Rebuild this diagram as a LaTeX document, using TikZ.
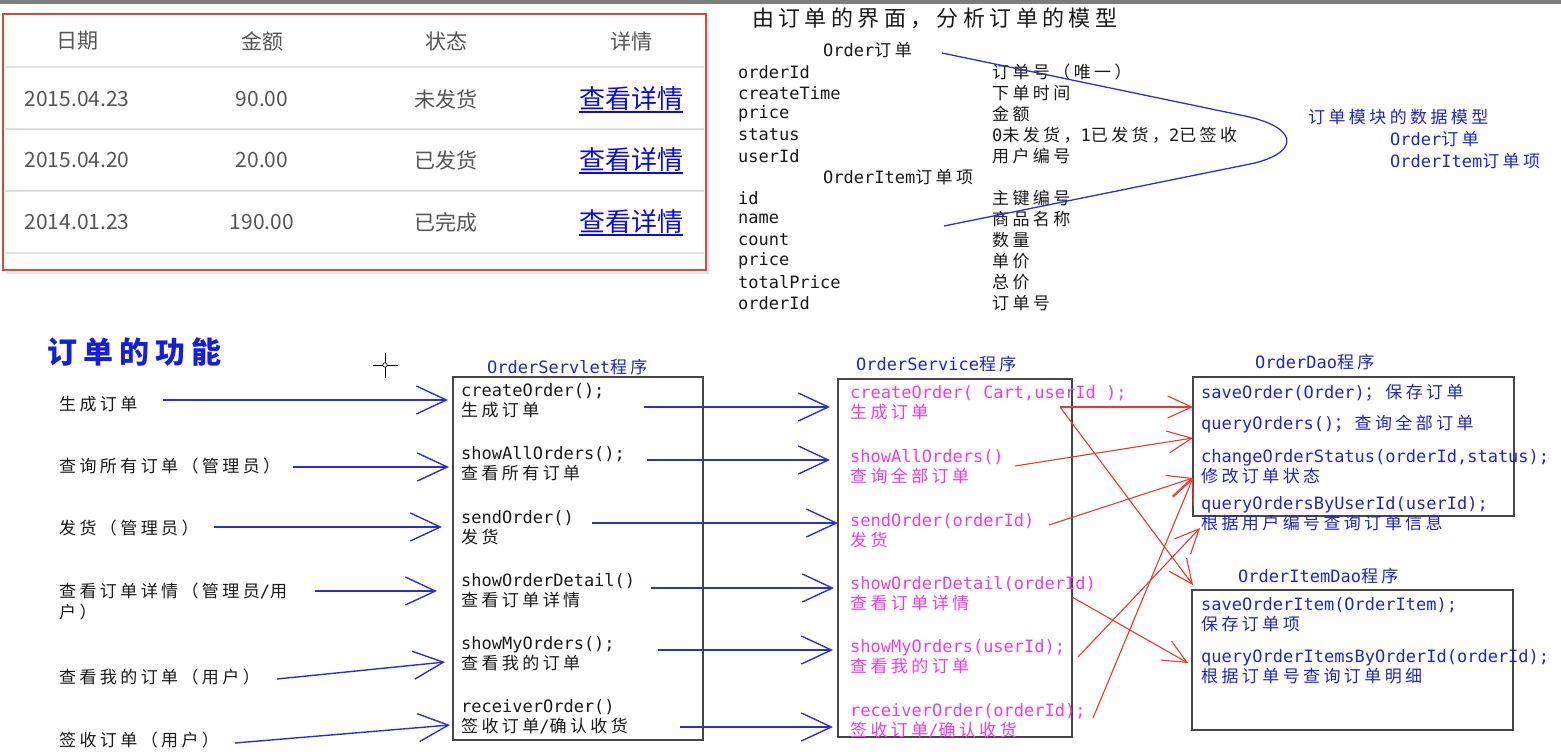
\documentclass[tikz,border=0pt]{standalone}
\usepackage{fontspec}
\usetikzlibrary{arrows.meta}

% Faces: Han text in a letterspaced CJK face (two Latin cells per glyph),
% Latin code text in a monospaced sans.
\newfontfamily\cn[LetterSpace=20]{Noto Sans CJK SC}
\newfontfamily\cnplain{Noto Sans CJK SC}
\newfontfamily\mono{DejaVu Sans Mono}
\let\hanfont\cn
\let\latinfont\mono

% Switch faces automatically between Han characters / full-width forms and Latin
\XeTeXinterchartokenstate=1
\newXeTeXintercharclass\hanclass
\newcount\hanc
\def\sethan#1#2{\hanc=#1 \loop\XeTeXcharclass\hanc=\hanclass
  \ifnum\hanc<#2 \advance\hanc by 1 \repeat}
\sethan{"4E00}{"9FFF}
\sethan{"3000}{"303F}
\sethan{"FF00}{"FFEF}
\XeTeXinterchartoks 0 \hanclass={\hanfont}
\XeTeXinterchartoks 4095 \hanclass={\hanfont}
\XeTeXinterchartoks \hanclass 0={\latinfont}
\XeTeXinterchartoks \hanclass 4095={\latinfont}

\def\tabsetup{\let\hanfont\cnplain\let\latinfont\cnplain\cnplain}

\definecolor{topbar}{RGB}{125,125,125}
\definecolor{tabred}{RGB}{215,75,65}
\definecolor{tgray}{RGB}{85,85,85}
\definecolor{linkblue}{RGB}{10,10,230}
\definecolor{ablue}{RGB}{45,45,215}
\definecolor{tblue}{RGB}{35,35,200}
\definecolor{hblue}{RGB}{20,30,220}
\definecolor{mag}{RGB}{235,60,235}
\definecolor{ared}{RGB}{235,55,45}
\definecolor{boxgray}{RGB}{70,70,70}
\definecolor{ink}{RGB}{25,25,25}

\tikzset{
  txt/.style={anchor=west, inner sep=0pt, text=ink, align=left,
    font=\fontsize{17}{20}\selectfont\mono},
  mtxt/.style={txt, font=\fontsize{17}{21}\selectfont\mono},
  btxt/.style={txt, text=tblue},
  ptxt/.style={txt, text=mag},
  tab/.style={anchor=center, inner sep=0pt, text=tgray,
    font=\fontsize{21}{24}\selectfont\tabsetup},
  link/.style={anchor=center, inner sep=0pt, text=linkblue,
    font=\fontsize{26}{30}\selectfont\tabsetup},
  box/.style={draw=boxgray, line width=1.5pt, inner sep=0pt},
  barrow/.style={draw=ablue, line width=1.4pt,
    -{Straight Barb[length=30pt,width=28pt]}},
  rarrow/.style={draw=ared, line width=1.1pt,
    -{Straight Barb[length=24pt,width=22pt]}},
}

\begin{document}
\begin{tikzpicture}[x=1pt,y=-1pt]
\useasboundingbox (0,0) rectangle (1561,755);
\fill[white] (0,0) rectangle (1561,755);
\fill[topbar] (0,0) rectangle (1561,4);

% ---------------- order list table ----------------
\fill[black!10] (6,18) rectangle (709,274);
\filldraw[fill=white, draw=tabred, line width=2pt] (3,14) rectangle (706,270);
\foreach \y in {67,129,191,253}
  \draw[black!12, line width=1.5pt] (5,\y) -- (704,\y);

\node[tab] (h1) at (77,41) {日期};
\node[tab] (h2) at (262,41) {金额};
\node[tab] (h3) at (446,41) {状态};
\node[tab] (h4) at (631,41) {详情};

\node[tab] (d1) at (77,99) {2015.04.23};
\node[tab] (a1) at (262,99) {90.00};
\node[tab] (s1) at (446,99) {未发货};
\node[link] (l1) at (631,99) {查看详情};

\node[tab] (d2) at (77,160) {2015.04.20};
\node[tab] (a2) at (262,160) {20.00};
\node[tab] (s2) at (446,160) {已发货};
\node[link] (l2) at (631,160) {查看详情};

\node[tab] (d3) at (77,222) {2014.01.23};
\node[tab] (a3) at (262,222) {190.00};
\node[tab] (s3) at (446,222) {已完成};
\node[link] (l3) at (631,222) {查看详情};

\foreach \n in {l1,l2,l3}
  \draw[linkblue, line width=1.6pt] ([yshift=-1pt]\n.south west) -- ([yshift=-1pt]\n.south east);

% ---------------- data model ----------------
\node[txt, font=\fontsize{22}{24}\selectfont\mono] (mtitle) at (752,18) {由订单的界面，分析订单的模型};

\node[txt] (ordert) at (823,50) {Order订单};
\node[txt] (f1) at (738,72) {orderId};
\node[txt] (f2) at (738,93) {createTime};
\node[txt] (f3) at (738,114) {price};
\node[txt] (f4) at (738,135) {status};
\node[txt] (f5) at (738,156) {userId};
\node[txt] (itemt) at (823,177) {OrderItem订单项};
\node[txt] (g1) at (738,198) {id};
\node[txt] (g2) at (738,219) {name};
\node[txt] (g3) at (738,240) {count};
\node[txt] (g4) at (738,261) {price};
\node[txt] (g5) at (738,282) {totalPrice};
\node[txt] (g6) at (738,303) {orderId};

\node[txt] (fd1) at (992,72) {订单号（唯一）};
\node[txt] (fd2) at (992,93) {下单时间};
\node[txt] (fd3) at (992,114) {金额};
\node[txt] (fd4) at (992,135) {0未发货，1已发货，2已签收};
\node[txt] (fd5) at (992,156) {用户编号};
\node[txt] (gd1) at (992,198) {主键编号};
\node[txt] (gd2) at (992,219) {商品名称};
\node[txt] (gd3) at (992,240) {数量};
\node[txt] (gd4) at (992,261) {单价};
\node[txt] (gd5) at (992,282) {总价};
\node[txt] (gd6) at (992,303) {订单号};

\coordinate (cs) at (942,53);
\coordinate (ce) at (944,226);
\draw[ablue, line width=1.3pt] (cs) -- (1245,116)
  .. controls (1297,127) and (1301,151) .. (1255,163) -- (ce);

\node[btxt] (mod) at (1308,117) {订单模块的数据模型};
\node[btxt] (mod1) at (1390,139) {Order订单};
\node[btxt] (mod2) at (1390,161) {OrderItem订单项};

% ---------------- order functions ----------------
\node[txt, text=hblue, font=\fontsize{30}{34}\selectfont\bfseries\mono] (ftitle) at (47,352) {订单的功能};

% pointer cursor
\draw[black, line width=0.8pt] (373,365) -- (398,365) (385,353) -- (385,378);
\draw[black, fill=white, line width=0.6pt] (385,365) circle (2.2pt);

\node[txt] (fn1) at (59,404) {生成订单};
\node[txt] (fn2) at (59,466) {查询所有订单（管理员）};
\node[txt] (fn3) at (59,528) {发货（管理员）};
\node[mtxt] (fn4) at (59,601.5) {查看订单详情（管理员/用\\户）};
\node[txt] (fn5) at (59,677) {查看我的订单（用户）};
\node[txt] (fn6) at (59,740) {签收订单（用户）};

% ---------------- OrderServlet ----------------
\node[box, minimum width=250pt, minimum height=363pt] (servlet) at (578,558.5) {};
\node[btxt] (servlett) at (487,367) {OrderServlet程序};
\node[txt] (sv1) at (461,401) {createOrder();\\生成订单};
\node[txt] (sv2) at (461,464) {showAllOrders();\\查看所有订单};
\node[txt] (sv3) at (461,528) {sendOrder()\\发货};
\node[txt] (sv4) at (461,591) {showOrderDetail()\\查看订单详情};
\node[txt] (sv5) at (461,654) {showMyOrders();\\查看我的订单};
\node[txt] (sv6) at (461,717) {receiverOrder()\\签收订单/确认收货};

% ---------------- OrderService ----------------
\node[box, minimum width=234pt, minimum height=358pt] (service) at (955,558) {};
\node[btxt] (servicet) at (856,364) {OrderService程序};
\node[ptxt] (se1) at (850,402.5) {createOrder( Cart,userId );\\生成订单};
\node[ptxt] (se2) at (850,467) {showAllOrders()\\查询全部订单};
\node[ptxt] (se3) at (850,531) {sendOrder(orderId)\\发货};
\node[ptxt] (se4) at (850,593.5) {showOrderDetail(orderId)\\查看订单详情};
\node[ptxt] (se5) at (850,657) {showMyOrders(userId);\\查看我的订单};
\node[ptxt] (se6) at (850,720.5) {receiverOrder(orderId);\\签收订单/确认收货};

% ---------------- OrderDao ----------------
\node[box, minimum width=321pt, minimum height=139pt] (dao) at (1353.5,446.5) {};
\node[btxt] (daot) at (1255,362) {OrderDao程序};
\node[btxt] (do1) at (1201,393) {saveOrder(Order)；保存订单};
\node[btxt] (do2) at (1201,424) {queryOrders()；查询全部订单};
\node[btxt] (do3) at (1201,467) {changeOrderStatus(orderId,status);\\修改订单状态};
\node[btxt] (do4) at (1201,513.5) {queryOrdersByUserId(userId);\\根据用户编号查询订单信息};

% ---------------- OrderItemDao ----------------
\node[box, minimum width=321pt, minimum height=140pt] (itemdao) at (1352.5,660) {};
\node[btxt] (itemdaot) at (1238,576) {OrderItemDao程序};
\node[btxt] (di1) at (1201,615) {saveOrderItem(OrderItem);\\保存订单项};
\node[btxt] (di2) at (1201,667) {queryOrderItemsByOrderId(orderId);\\根据订单号查询订单明细};

% ---------------- functions -> servlet ----------------
\coordinate (p1s) at (163,400);  \coordinate (p1e) at (448,400);
\coordinate (p2s) at (293,467);  \coordinate (p2e) at (449,467);
\coordinate (p3s) at (214,527);  \coordinate (p3e) at (442,527);
\coordinate (p4s) at (315,591);  \coordinate (p4e) at (437,591);
\coordinate (p5s) at (277,679);  \coordinate (p5e) at (445,662);
\coordinate (p6s) at (235,743);  \coordinate (p6e) at (450,725);
\foreach \i in {1,...,6} \draw[barrow] (p\i s) -- (p\i e);

% ---------------- servlet -> service ----------------
\coordinate (q1s) at (644,407);  \coordinate (q1e) at (830,407);
\coordinate (q2s) at (647,460);  \coordinate (q2e) at (830,460);
\coordinate (q3s) at (592,523);  \coordinate (q3e) at (838,523);
\coordinate (q4s) at (651,588);  \coordinate (q4e) at (834,588);
\coordinate (q5s) at (658,650);  \coordinate (q5e) at (833,650);
\coordinate (q6s) at (680,727);  \coordinate (q6e) at (833,727);
\foreach \i in {1,...,6} \draw[barrow] (q\i s) -- (q\i e);

% ---------------- service -> dao ----------------
\coordinate (r1s) at (1060,407);
\coordinate (r2s) at (1015,466);
\coordinate (r3s) at (1049,525);
\coordinate (r4s) at (1072,597);
\coordinate (r5s) at (1078,657);
\coordinate (r6s) at (1093,718);
\coordinate (t1) at (1193,407);
\coordinate (t2) at (1193,585);
\coordinate (t3) at (1193,438);
\coordinate (t4) at (1193,478);
\coordinate (t5) at (1188,663);
\coordinate (t6) at (1200,528);
\draw[rarrow] (r1s) -- (t1);
\draw[rarrow] (r1s) -- (t2);
\draw[rarrow] (r2s) -- (t3);
\draw[rarrow] (r3s) -- (t4);
\draw[rarrow] (r4s) -- (t5);
\draw[rarrow] (r5s) -- (t6);
\draw[rarrow] (r6s) -- (t4);
\end{tikzpicture}
\end{document}
